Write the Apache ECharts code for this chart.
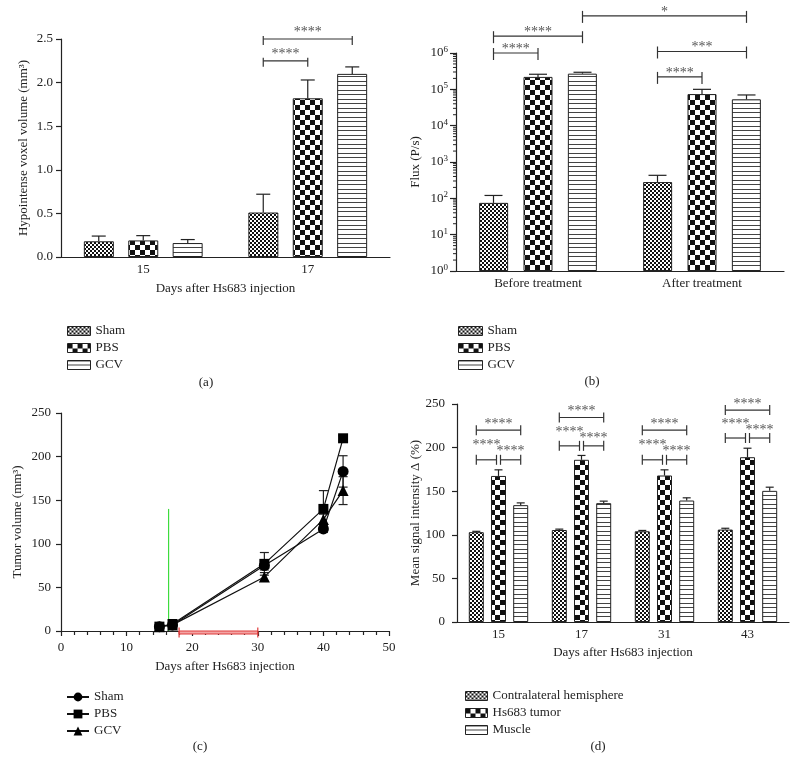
<!DOCTYPE html>
<html><head><meta charset="utf-8">
<script src="https://cdn.jsdelivr.net/npm/echarts@6/dist/echarts.min.js"></script>
<style>html,body{margin:0;padding:0;background:#fff}#c{width:795px;height:761px}</style>
</head><body><div id="c"></div>
<script>
// ---------- data ----------
// (a) hypointense voxel volume
const daysA = ['15', '17'];
const aSham = [0.18, 0.51];
const aShamErr = [0.24, 0.72];
const aPBS = [0.19, 1.82];
const aPBSErr = [0.245, 2.03];
const aGCV = [0.16, 2.10];
const aGCVErr = [0.20, 2.18];
// significance: [catFrom, barFrom, catTo, barTo, level, label, kind]
const sigA = [[1, 0, 1, 2, 2.5, '****', 'w'], [1, 0, 1, 1, 2.25, '****', 'w']];

// (b) flux
const phasesB = ['Before treatment', 'After treatment'];
const bSham = [75, 280];
const bShamErr = [120, 430];
const bPBS = [220000, 74000];
const bPBSErr = [260000, 100000];
const bGCV = [270000, 53000];
const bGCVErr = [295000, 70000];
const sigB = [[0, 0, 0, 1, 1e6, '****', 'w'], [0, 0, 0, 2, 2.9e6, '****', 'w'], [0, 2, 1, 2, 1.05e7, '*', 'w'],
              [1, 0, 1, 2, 1.1e6, '***', 'w'], [1, 0, 1, 1, 2.2e5, '****', 'w']];
const bMinorTicks = [];
[1, 10, 100, 1000, 10000, 100000].forEach(d => { for (let m = 2; m <= 9; m++) bMinorTicks.push(m * d); });

// (c) tumor volume
const daysC = [15, 17, 31, 40, 43];
const cSham = [5, 7, 75, 117, 183];
const cShamSD = [1, 1, 5, 4, 18];
const cPBS = [5, 8, 77, 140, 221];
const cPBSSD = [1, 1, 13, 21, 3];
const cGCV = [5, 7, 62, 128, 161];
const cGCVSD = [1, 1, 5, 6, 16];
const injectionMark = [16.4, 140];   // day, height of GCV injection marker
const treatmentPeriod = [18, 30];    // days

// (d) mean signal intensity
const daysD = ['15', '17', '31', '43'];
const dContra = [103, 105.5, 104, 106];
const dContraErr = [104, 106.5, 105, 107.5];
const dTumor = [167.5, 186, 168, 189];
const dTumorErr = [174.5, 191, 174.5, 199.3];
const dMuscle = [134, 136.3, 139.3, 150.4];
const dMuscleErr = [136.6, 138.6, 142.4, 154.6];
const sigD = [
  [0, 0, 0, 2, 220, '****', 'w'], [0, 0, 0, 1, 186, '****', 'l'], [0, 1, 0, 2, 186, '****', 'r'],
  [1, 0, 1, 2, 234.5, '****', 'w'], [1, 0, 1, 1, 202, '****', 'l'], [1, 1, 1, 2, 202, '****', 'r'],
  [2, 0, 2, 2, 220, '****', 'w'], [2, 0, 2, 1, 186, '****', 'l'], [2, 1, 2, 2, 186, '****', 'r'],
  [3, 0, 3, 2, 243, '****', 'w'], [3, 0, 3, 1, 211, '****', 'l'], [3, 1, 3, 2, 211, '****', 'r']
];

// ---------- styles ----------
const FONT = '"Liberation Serif", "Times New Roman", serif';
const INK = '#222';
const txt = { color: INK, fontFamily: FONT, fontSize: 13 };

function mk(w, h, draw) {
  const c = document.createElement('canvas'); c.width = w; c.height = h;
  const g = c.getContext('2d'); g.fillStyle = '#fff'; g.fillRect(0, 0, w, h); g.fillStyle = '#111'; draw(g);
  return { image: c, repeat: 'repeat' };
}
const patFine = mk(4, 4, g => { g.fillRect(0, 0, 2, 2); g.fillRect(2, 2, 2, 2); });
const patCoarse = mk(10, 10, g => { g.fillRect(0, 0, 5, 5); g.fillRect(5, 5, 5, 5); });
const patStripe = mk(9, 9, g => { g.fillStyle = '#444'; g.fillRect(0, 0, 9, 1); g.fillRect(0, 4, 9, 1); });

function barS(name, xi, vals, pat, bw, gap) {
  return { type: 'bar', name, xAxisIndex: xi, yAxisIndex: xi, data: vals, barWidth: bw, barGap: gap,
    itemStyle: { color: pat, borderColor: INK, borderWidth: 1 }, silent: true, z: 2 };
}
function errS(xi, vals, errs, idx, step, cap) {
  return { type: 'custom', xAxisIndex: xi, yAxisIndex: xi, silent: true, z: 3,
    data: vals.map((v, i) => [i, v, errs[i]]), encode: { x: 0, y: [1, 2] },
    renderItem(params, api) {
      const p0 = api.coord([api.value(0), api.value(1)]);
      const p1 = api.coord([api.value(0), api.value(2)]);
      const x = p0[0] + (idx - 1) * step;
      const st = { stroke: INK, lineWidth: 1.2 };
      return { type: 'group', children: [
        { type: 'line', shape: { x1: x, y1: p0[1], x2: x, y2: p1[1] }, style: st },
        { type: 'line', shape: { x1: x - cap, y1: p1[1], x2: x + cap, y2: p1[1] }, style: st }] };
    } };
}
function bracketS(xi, list, step, up, down, off, fs) {
  return { type: 'custom', xAxisIndex: xi, yAxisIndex: xi, silent: true, z: 4,
    data: list.map(s => [s[0], s[4]]), encode: { x: 0, y: 1 },
    renderItem(params, api) {
      const s = list[params.dataIndex];
      const pA = api.coord([s[0], s[4]]), pB = api.coord([s[2], s[4]]);
      let x0 = pA[0] + (s[1] - 1) * step, x1 = pB[0] + (s[3] - 1) * step;
      const kind = s[6];
      if (kind === 'l') x1 -= 2;
      if (kind === 'r') x0 += 2;
      const y = pA[1];
      const st = { stroke: '#333', lineWidth: 1.2 };
      return { type: 'group', children: [
        { type: 'line', shape: { x1: x0, y1: y, x2: x1, y2: y }, style: st },
        { type: 'line', shape: { x1: x0, y1: y - up, x2: x0, y2: y + down }, style: st },
        { type: 'line', shape: { x1: x1, y1: y - up, x2: x1, y2: y + down }, style: st },
        { type: 'text', x: (x0 + x1) / 2, y: y - off[kind],
          style: { text: s[5], align: 'center', verticalAlign: 'middle', font: fs + 'px ' + FONT, fill: '#555' } }] };
    } };
}
function cErrS(vals, sds) {
  return { type: 'custom', xAxisIndex: 2, yAxisIndex: 2, silent: true, z: 1,
    data: daysC.map((d, i) => [d, vals[i] - sds[i], vals[i] + sds[i]]), encode: { x: 0, y: [1, 2] },
    renderItem(params, api) {
      const lo = api.coord([api.value(0), api.value(1)]), hi = api.coord([api.value(0), api.value(2)]);
      const st = { stroke: INK, lineWidth: 1.2 }, c = 4.5;
      return { type: 'group', children: [
        { type: 'line', shape: { x1: lo[0], y1: lo[1], x2: hi[0], y2: hi[1] }, style: st },
        { type: 'line', shape: { x1: lo[0] - c, y1: lo[1], x2: lo[0] + c, y2: lo[1] }, style: st },
        { type: 'line', shape: { x1: hi[0] - c, y1: hi[1], x2: hi[0] + c, y2: hi[1] }, style: st }] };
    } };
}
function lineS(name, vals, sym, size) {
  return { type: 'line', name, xAxisIndex: 2, yAxisIndex: 2, data: daysC.map((d, i) => [d, vals[i]]),
    symbol: sym, symbolSize: size, showAllSymbol: true, silent: true, z: 3,
    lineStyle: { color: '#111', width: 1.2 }, itemStyle: { color: '#000' } };
}

const axLine = { show: true, lineStyle: { color: INK, width: 1.2 } };
const axTick = { show: true, length: 5, lineStyle: { color: INK, width: 1.2 } };
function catX(gi, data, name, margin, gap) {
  return { type: 'category', gridIndex: gi, data, axisLine: axLine, axisTick: { show: false },
    axisLabel: Object.assign({ margin }, txt), name, nameLocation: 'middle', nameGap: gap, nameTextStyle: txt,
    splitLine: { show: false } };
}
function valY(gi, min, max, interval, name, gap, margin, fmt) {
  return { type: 'value', gridIndex: gi, min, max, interval, axisLine: axLine, axisTick: axTick,
    axisLabel: Object.assign({ margin, formatter: fmt }, txt), splitLine: { show: false },
    name, nameLocation: 'middle', nameRotate: 90, nameGap: gap, nameTextStyle: txt };
}
const strip = n => n.split(':')[1];
const legBase = { orient: 'vertical', selectedMode: false, itemGap: 3, formatter: strip,
  textStyle: Object.assign({ lineHeight: 14 }, txt) };
const legBar = { icon: 'rect', itemStyle: { borderColor: INK, borderWidth: 1 } };

const option = {
  animation: false,
  backgroundColor: '#fff',
  grid: [
    { left: 61, top: 39, width: 329, height: 218, outerBoundsMode: 'none' },
    { left: 456, top: 53, width: 328, height: 218, outerBoundsMode: 'none' },
    { left: 61, top: 413, width: 328, height: 218, outerBoundsMode: 'none' },
    { left: 457, top: 404, width: 332, height: 218, outerBoundsMode: 'none' }
  ],
  xAxis: [
    catX(0, daysA, 'Days after Hs683 injection', 6, 25),
    catX(1, phasesB, '', 6, 25),
    { type: 'value', gridIndex: 2, min: 0, max: 50, interval: 10, axisLine: axLine, axisTick: axTick,
      minorTick: { show: true, splitNumber: 5, length: 4, lineStyle: { color: INK, width: 1.2 } },
      axisLabel: Object.assign({ margin: 10 }, txt), splitLine: { show: false }, minorSplitLine: { show: false },
      name: 'Days after Hs683 injection', nameLocation: 'middle', nameGap: 29, nameTextStyle: txt },
    catX(3, daysD, 'Days after Hs683 injection', 6, 24)
  ],
  yAxis: [
    valY(0, 0, 2.5, 0.5, 'Hypointense voxel volume (mm³)', 31, 8, v => v.toFixed(1)),
    { type: 'log', gridIndex: 1, min: 1, max: 1e6, logBase: 10, splitNumber: 6, axisLine: axLine,
      axisTick: { show: true, length: 6, lineStyle: { color: INK, width: 1.2 } }, splitLine: { show: false },
      axisLabel: Object.assign({ margin: 8, formatter: v => '10{s|' + Math.round(Math.log10(v)) + '}',
        rich: { s: { fontSize: 9, fontFamily: FONT, color: INK, verticalAlign: 'top', lineHeight: 9 } },
        lineHeight: 16 }, txt),
      name: 'Flux (P/s)', nameLocation: 'middle', nameRotate: 90, nameGap: 34, nameTextStyle: txt },
    valY(2, 0, 250, 50, 'Tumor volume (mm³)', 37, 10),
    valY(3, 0, 250, 50, 'Mean signal intensity Δ (%)', 32, 12)
  ],
  legend: [
    Object.assign({ data: ['a:Sham', 'a:PBS', 'a:GCV'], left: 62, top: 319, itemWidth: 23, itemHeight: 9 }, legBase, legBar),
    Object.assign({ data: ['b:Sham', 'b:PBS', 'b:GCV'], left: 453, top: 319, itemWidth: 24, itemHeight: 9 }, legBase, legBar),
    Object.assign({ data: ['c:Sham', 'c:PBS', 'c:GCV'], left: 61, top: 685, itemWidth: 22, itemHeight: 11 }, legBase),
    Object.assign({ data: ['d:Contralateral hemisphere', 'd:Hs683 tumor', 'd:Muscle'], left: 460, top: 684,
      itemWidth: 22, itemHeight: 9 }, legBase, legBar)
  ],
  graphic: [
    ['(a)', 206, 383], ['(b)', 592, 382], ['(c)', 200, 747], ['(d)', 598, 747]
  ].map(t => ({ type: 'text', x: t[1], y: t[2], style: { text: t[0], align: 'center', verticalAlign: 'middle',
    font: '13px ' + FONT, fill: INK } })),
  series: [
    // (a)
    barS('a:Sham', 0, aSham, patFine, 30, '48%'),
    barS('a:PBS', 0, aPBS, patCoarse, 30, '48%'),
    barS('a:GCV', 0, aGCV, patStripe, 30, '48%'),
    errS(0, aSham, aShamErr, 0, 44.5, 7), errS(0, aPBS, aPBSErr, 1, 44.5, 7), errS(0, aGCV, aGCVErr, 2, 44.5, 7),
    bracketS(0, sigA, 44.5, 3, 6, { w: 6.2 }, 14),
    // (b)
    barS('b:Sham', 1, bSham, patFine, 29, '53%'),
    barS('b:PBS', 1, bPBS, patCoarse, 29, '53%'),
    barS('b:GCV', 1, bGCV, patStripe, 29, '53%'),
    errS(1, bSham, bShamErr, 0, 44.5, 9), errS(1, bPBS, bPBSErr, 1, 44.5, 9), errS(1, bGCV, bGCVErr, 2, 44.5, 9),
    bracketS(1, sigB, 44.5, 5, 7, { w: 3.9 }, 14),
    { type: 'custom', xAxisIndex: 1, yAxisIndex: 1, silent: true, z: 3,
      data: bMinorTicks.map(v => [0, v]), encode: { x: 0, y: 1 },
      renderItem(params, api) {
        const y = api.coord([0, api.value(1)])[1], x = params.coordSys.x;
        return { type: 'line', shape: { x1: x - 3, y1: y, x2: x, y2: y }, style: { stroke: INK, lineWidth: 1 } };
      } },
    // (c)
    cErrS(cSham, cShamSD), cErrS(cPBS, cPBSSD), cErrS(cGCV, cGCVSD),
    lineS('c:Sham', cSham, 'circle', 11),
    lineS('c:PBS', cPBS, 'rect', 10),
    lineS('c:GCV', cGCV, 'triangle', 11),
    { type: 'custom', xAxisIndex: 2, yAxisIndex: 2, silent: true, z: 2,
      data: [[injectionMark[0], 0, injectionMark[1]]], encode: { x: 0, y: [1, 2] },
      renderItem(params, api) {
        const a = api.coord([api.value(0), api.value(1)]), b = api.coord([api.value(0), api.value(2)]);
        return { type: 'line', shape: { x1: a[0], y1: a[1], x2: b[0], y2: b[1] }, style: { stroke: '#3ddc3d', lineWidth: 1.2 } };
      } },
    { type: 'custom', xAxisIndex: 2, yAxisIndex: 2, silent: true, z: 4,
      data: [[treatmentPeriod[0], treatmentPeriod[1], 0]], encode: { x: [0, 1], y: 2 },
      renderItem(params, api) {
        const a = api.coord([api.value(0), api.value(2)]), b = api.coord([api.value(1), api.value(2)]);
        const y = a[1] + 1.5;
        return { type: 'group', children: [
          { type: 'rect', shape: { x: a[0], y: y - 1.5, width: b[0] - a[0], height: 3 }, style: { fill: '#f3a4a4', stroke: '#e03a3a', lineWidth: 1 } },
          { type: 'line', shape: { x1: a[0], y1: y - 5, x2: a[0], y2: y + 5 }, style: { stroke: '#e03a3a', lineWidth: 1.2 } },
          { type: 'line', shape: { x1: b[0], y1: y - 5, x2: b[0], y2: y + 5 }, style: { stroke: '#e03a3a', lineWidth: 1.2 } }] };
      } },
    // (d)
    barS('d:Contralateral hemisphere', 3, dContra, patFine, 15, '48%'),
    barS('d:Hs683 tumor', 3, dTumor, patCoarse, 15, '48%'),
    barS('d:Muscle', 3, dMuscle, patStripe, 15, '48%'),
    errS(3, dContra, dContraErr, 0, 22.2, 4), errS(3, dTumor, dTumorErr, 1, 22.2, 4), errS(3, dMuscle, dMuscleErr, 2, 22.2, 4),
    bracketS(3, sigD, 22.2, 5, 5, { w: 6.2, l: 14, r: 8 }, 14)
  ]
};
const chart = echarts.init(document.getElementById('c'), null, { renderer: 'canvas' });
chart.setOption(option);
</script></body></html>
